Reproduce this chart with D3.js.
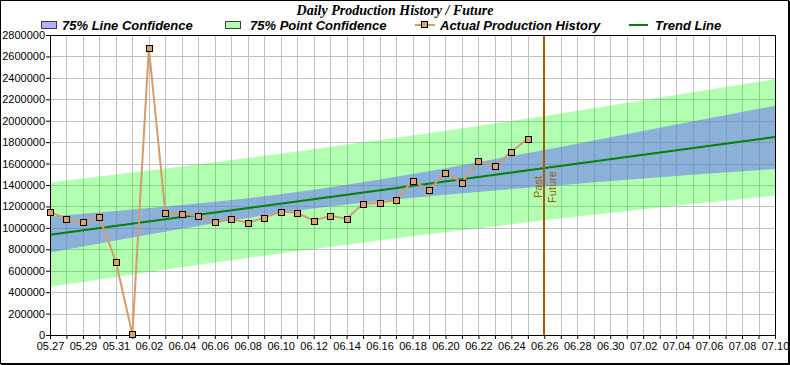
<!DOCTYPE html>
<html><head><meta charset="utf-8">
<script src="https://cdn.jsdelivr.net/npm/d3@7"></script>
<style>
body{margin:0;background:#fff}
svg{display:block}
text{font-family:"Liberation Sans",Arial,sans-serif}
</style>
</head><body>
<svg id="c" width="790" height="365"></svg>
<script>
// ---------- data ----------
const historyDates = ["05.27","05.28","05.29","05.30","05.31","06.01","06.02","06.03","06.04","06.05",
  "06.06","06.07","06.08","06.09","06.10","06.11","06.12","06.13","06.14","06.15",
  "06.16","06.17","06.18","06.19","06.20","06.21","06.22","06.23","06.24","06.25"];
const historyValues = [1150000,1083000,1056000,1102000,683000,5000,2681000,1141000,1131000,1114000,
  1056000,1083000,1049000,1094000,1150000,1141000,1067000,1113000,1086000,1226000,
  1233000,1262000,1440000,1356000,1515000,1422000,1627000,1580000,1711000,1832000];
const trendDates = ["05.27","07.10"];
const trendValues = [936000,1848000];
const bandDates = ["05.27","05.31","06.04","06.08","06.12","06.16","06.20","06.24","06.28","07.02","07.06","07.10"];
const lineConfUpper = [1106000,1157000,1213000,1277000,1356000,1451000,1557000,1670000,1786000,1904000,2023000,2140000];
const lineConfLower = [770000,881000,991000,1093000,1180000,1251000,1309000,1362000,1412000,1460000,1507000,1550000];
const pointConfUpper = [1424000,1497000,1572000,1651000,1734000,1819000,1907000,1998000,2093000,2190000,2290000,2388000];
const pointConfLower = [450000,541000,632000,719000,802000,883000,959000,1034000,1105000,1174000,1240000,1300000];
const yTicks = [0,200000,400000,600000,800000,1000000,1200000,1400000,1600000,1800000,2000000,2200000,2400000,2600000,2800000];
const xStart = "05.27", xEnd = "07.10";
const futureDate = "06.26";
const titleText = "Daily Production History / Future";
const legendLabels = ["75% Line Confidence","75% Point Confidence","Actual Production History","Trend Line"];

// ---------- setup ----------
const parse = s => d3.utcParse("%Y.%m.%d")("2013." + s);
const fmt = d3.utcFormat("%m.%d");
const L = 50, R = 775, T = 35, B = 335;
const x = d3.scaleUtc().domain([parse(xStart), parse(xEnd)]).range([L, R]);
const y = d3.scaleLinear().domain([0, 2800000]).range([B, T]);
const svg = d3.select("#c");

const lineColor = "#d69b69", markerFill = "#dba26f", trendColor = "#008000", futureColor = "#a05a00";
const greenFill = "rgba(0,255,0,0.3)", blueFill = "rgba(100,100,255,0.5)";

// outer border
svg.append("rect").attr("x",0.5).attr("y",0.5).attr("width",788).attr("height",363)
  .attr("fill","none").attr("stroke","#000");
svg.append("line").attr("x1",789.5).attr("x2",789.5).attr("y1",1).attr("y2",365).attr("stroke","#000");
svg.append("line").attr("x1",1).attr("x2",790).attr("y1",364.5).attr("y2",364.5).attr("stroke","#000");

// title
svg.append("text").attr("x",395).attr("y",15).attr("text-anchor","middle")
  .style("font-family","'Liberation Serif','Times New Roman',serif")
  .attr("font-size",14).attr("font-weight","bold").attr("font-style","italic").text(titleText);

// grid
const days = d3.utcDay.range(parse(xStart), d3.utcDay.offset(parse(xEnd),1));
const grid = svg.append("g").attr("stroke","#c0c0c0").attr("stroke-width",1);
days.forEach(d => {
  const px = Math.round(x(d)) + 0.5;
  grid.append("line").attr("x1",px).attr("x2",px).attr("y1",T).attr("y2",B);
});
yTicks.forEach(v => {
  const py = Math.round(y(v)) + 0.5;
  grid.append("line").attr("x1",L).attr("x2",R).attr("y1",py).attr("y2",py);
});

// bands
svg.append("clipPath").attr("id","pc").append("rect")
  .attr("x",L).attr("y",T).attr("width",R-L).attr("height",B-T);
const plot = svg.append("g").attr("clip-path","url(#pc)");
const bandData = bandDates.map((d,i)=>({d:parse(d), pu:pointConfUpper[i], pl:pointConfLower[i], lu:lineConfUpper[i], ll:lineConfLower[i]}));
plot.append("path").datum(bandData).attr("fill",greenFill)
  .attr("d", d3.area().curve(d3.curveMonotoneX).x(p=>x(p.d)).y0(p=>y(p.pl)).y1(p=>y(p.pu)));
plot.append("path").datum(bandData).attr("fill",blueFill)
  .attr("d", d3.area().curve(d3.curveMonotoneX).x(p=>x(p.d)).y0(p=>y(p.ll)).y1(p=>y(p.lu)));

// trend
const trendData = trendDates.map((d,i)=>({d:parse(d), v:trendValues[i]}));
plot.append("path").datum(trendData).attr("fill","none").attr("stroke",trendColor).attr("stroke-width",2)
  .attr("d", d3.line().x(p=>x(p.d)).y(p=>y(p.v)));

// future line
const fx = Math.round(x(parse(futureDate)));
svg.append("line").attr("x1",fx).attr("x2",fx).attr("y1",T).attr("y2",B)
  .attr("stroke",futureColor).attr("stroke-width",2);
svg.append("text").attr("transform",`translate(${fx-2},187) rotate(-90)`).attr("text-anchor","middle")
  .attr("font-size",11).attr("fill",futureColor).text("Past");
svg.append("text").attr("transform",`translate(${fx+12},187) rotate(-90)`).attr("text-anchor","middle")
  .attr("font-size",11).attr("fill",futureColor).text("Future");

// axes
const yAxis = d3.axisLeft(y).tickValues(yTicks).tickFormat(d3.format("d")).tickSize(4).tickSizeOuter(0);
const gy = svg.append("g").attr("transform",`translate(${L},0)`).call(yAxis);
gy.selectAll("text").attr("font-size",11).attr("fill","#000").style("font-family","'Liberation Sans',Arial,sans-serif").attr("x",-5);
gy.selectAll("line,path").attr("stroke","#000");
const xAxis = d3.axisBottom(x).tickValues(days).tickSize(4).tickSizeOuter(0)
  .tickFormat((d,i)=> i%2===0 ? fmt(d) : "");
const gx = svg.append("g").attr("transform",`translate(0,${B})`).call(xAxis);
gx.selectAll("text").attr("font-size",11).attr("fill","#000").style("font-family","'Liberation Sans',Arial,sans-serif").attr("y",7);
gx.selectAll("line,path").attr("stroke","#000");
// top & right frame
svg.append("line").attr("x1",L).attr("x2",R+1).attr("y1",T+0.5).attr("y2",T+0.5).attr("stroke","#000");
svg.append("line").attr("x1",R+0.5).attr("x2",R+0.5).attr("y1",T).attr("y2",B+1).attr("stroke","#000");

// history
const hist = historyDates.map((d,i)=>({d:parse(d), v:historyValues[i]}));
svg.append("path").datum(hist).attr("fill","none").attr("stroke",lineColor).attr("stroke-width",2)
  .attr("d", d3.line().x(p=>x(p.d)).y(p=>y(p.v)));
svg.selectAll("rect.mk").data(hist).join("rect").attr("class","mk")
  .attr("x",p=>Math.round(x(p.d))-3+0.5).attr("y",p=>Math.round(y(p.v))-3+0.5)
  .attr("width",6).attr("height",6).attr("fill",markerFill).attr("stroke","#000");

// legend
const lg = svg.append("g").attr("font-size",13).attr("font-weight","bold").attr("font-style","italic");
lg.append("rect").attr("x",41.5).attr("y",21.5).attr("width",15).attr("height",7).attr("fill",blueFill).attr("stroke","#404040");
lg.append("text").attr("x",62).attr("y",30).text(legendLabels[0]);
lg.append("rect").attr("x",225.5).attr("y",21.5).attr("width",15).attr("height",7).attr("fill",greenFill).attr("stroke","#404040");
lg.append("text").attr("x",250).attr("y",30).text(legendLabels[1]);
lg.append("line").attr("x1",415).attr("x2",435).attr("y1",25).attr("y2",25).attr("stroke",lineColor).attr("stroke-width",2);
lg.append("rect").attr("x",421.5).attr("y",21.5).attr("width",6).attr("height",6).attr("fill",markerFill).attr("stroke","#000");
lg.append("text").attr("x",440).attr("y",30).text(legendLabels[2]);
lg.append("line").attr("x1",629).attr("x2",648).attr("y1",25).attr("y2",25).attr("stroke",trendColor).attr("stroke-width",2);
lg.append("text").attr("x",655).attr("y",30).text(legendLabels[3]);
</script>
</body></html>
